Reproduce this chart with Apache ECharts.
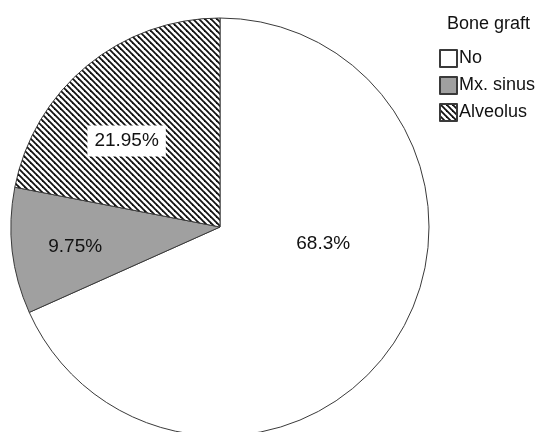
<!DOCTYPE html>
<html>
<head>
<meta charset="utf-8">
<script src="https://cdn.jsdelivr.net/npm/echarts@6/dist/echarts.min.js"></script>
<style>
  html, body { margin: 0; padding: 0; background: #fff; }
  #chart { width: 539px; height: 432px; }
</style>
</head>
<body>
<div id="chart"></div>
<script>
// Bone graft distribution (percent of cases)
const categories = ['No', 'Mx. sinus', 'Alveolus'];
const percents = [68.3, 9.75, 21.95];
const legendTitle = 'Bone graft';

// Label nudges (px) from the default inside-slice position
const labelNudges = [[13, -42], [-38, 7], [-25, -3]];

// Diagonal hatch tile for the Alveolus slice
function hatchTile() {
  const c = document.createElement('canvas');
  c.width = 6; c.height = 6;
  const g = c.getContext('2d');
  g.fillStyle = '#ffffff';
  g.fillRect(0, 0, 6, 6);
  g.strokeStyle = '#111111';
  g.lineWidth = 1.8;
  for (let k = -1; k <= 1; k++) {
    g.beginPath();
    g.moveTo(-1, -1 + 6 * k);
    g.lineTo(7, 7 + 6 * k);
    g.stroke();
  }
  return c;
}

const fills = ['#ffffff', '#a0a0a0', { image: hatchTile(), repeat: 'repeat' }];
const fontFamily = '"Liberation Sans", Arial, sans-serif';

const chart = echarts.init(document.getElementById('chart'), null, { renderer: 'canvas' });
chart.setOption({
  animation: false,
  backgroundColor: '#ffffff',
  title: {
    text: legendTitle,
    left: 447,
    top: 15,
    padding: 0,
    textStyle: { fontFamily, fontSize: 18, fontWeight: 'normal', color: '#111' }
  },
  legend: {
    orient: 'vertical',
    left: 439,
    top: 49,
    padding: 0,
    itemWidth: 17,
    itemHeight: 17,
    itemGap: 8,
    icon: 'rect',
    selectedMode: false,
    textStyle: { fontFamily, fontSize: 18, color: '#111', padding: [0, 0, 0, -3] },
    data: categories
  },
  series: [{
    type: 'pie',
    center: [220, 227],
    radius: 209,
    startAngle: 90,
    clockwise: true,
    avoidLabelOverlap: false,
    itemStyle: { borderColor: '#3a3a3a', borderWidth: 1 },
    label: {
      show: true,
      position: 'inside',
      formatter: (p) => p.value + '%',
      fontFamily,
      fontSize: 19,
      color: '#111'
    },
    labelLayout: (p) => ({ dx: labelNudges[p.dataIndex][0], dy: labelNudges[p.dataIndex][1] }),
    emphasis: { disabled: true },
    data: categories.map((name, i) => ({
      name,
      value: percents[i],
      itemStyle: { color: fills[i] },
      label: i === 2 ? { backgroundColor: '#ffffff', padding: [6, 7] } : {}
    }))
  }]
});
</script>
</body>
</html>
